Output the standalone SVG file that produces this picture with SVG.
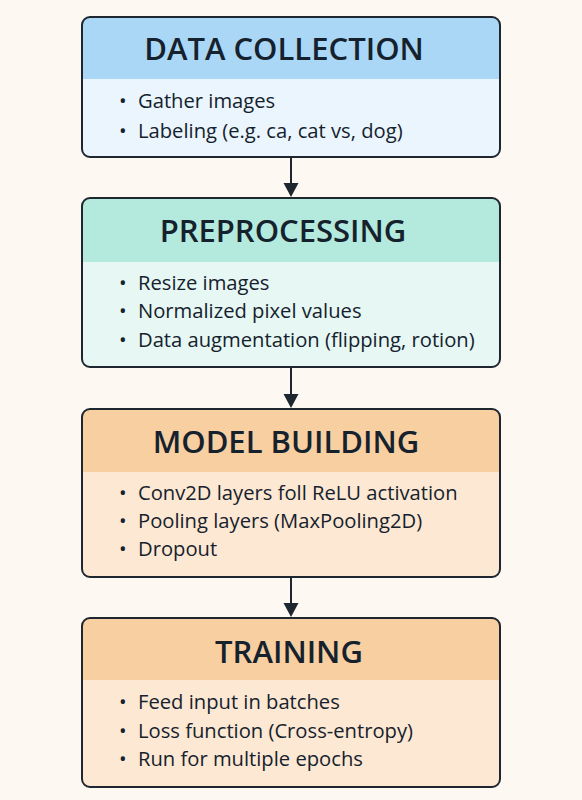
<svg xmlns="http://www.w3.org/2000/svg" width="582" height="800" viewBox="0 0 582 800">
<style>
.box{stroke:#1e2730;stroke-width:2;}
.title{font-family:"Open Sans","Liberation Sans",sans-serif;font-weight:600;font-size:31px;fill:#15222d;text-anchor:middle;}
.item{font-family:"Open Sans","Liberation Sans",sans-serif;font-size:20.2px;fill:#15222d;}
.conn{stroke:#1e2730;stroke-width:2;fill:none;}
.head{fill:#1e2730;}
</style>
<defs>
<clipPath id="c1"><rect x="82" y="17" width="418" height="140" rx="8"/></clipPath>
<clipPath id="c2"><rect x="82" y="198" width="418" height="169" rx="8"/></clipPath>
<clipPath id="c3"><rect x="82" y="409" width="418" height="168" rx="8"/></clipPath>
<clipPath id="c4"><rect x="82" y="618" width="418" height="169" rx="8"/></clipPath>
</defs>
<rect width="582" height="800" fill="#fdf8f2"/>
<g id="connectors">
<line class="conn" x1="291" y1="157" x2="291" y2="185"/>
<polygon class="head" points="283.5,183 298.5,183 291,197"/>
<line class="conn" x1="291" y1="367" x2="291" y2="396"/>
<polygon class="head" points="283.5,394 298.5,394 291,408"/>
<line class="conn" x1="291" y1="577" x2="291" y2="605"/>
<polygon class="head" points="283.5,603 298.5,603 291,617"/>
</g>
<g id="data-collection">
<g clip-path="url(#c1)">
<rect x="82" y="17" width="418" height="140" fill="#eaf5fd"/>
<rect x="82" y="17" width="418" height="62" fill="#abd7f7"/>
</g>
<rect class="box" x="82" y="17" width="418" height="140" rx="8" fill="none"/>
<text class="title" x="284" y="60">DATA COLLECTION</text>
<text class="item" x="119" y="108">•</text><text class="item" x="138" y="108">Gather images</text>
<text class="item" x="119" y="138">•</text><text class="item" x="138" y="138">Labeling (e.g. ca, cat vs, dog)</text>
</g>
<g id="preprocessing">
<g clip-path="url(#c2)">
<rect x="82" y="198" width="418" height="169" fill="#e6f7f4"/>
<rect x="82" y="198" width="418" height="64" fill="#b4e9dd"/>
</g>
<rect class="box" x="82" y="198" width="418" height="169" rx="8" fill="none"/>
<text class="title" x="283" y="242">PREPROCESSING</text>
<text class="item" x="119" y="290">•</text><text class="item" x="138" y="290">Resize images</text>
<text class="item" x="119" y="318">•</text><text class="item" x="138" y="318">Normalized pixel values</text>
<text class="item" x="119" y="347">•</text><text class="item" x="138" y="347">Data augmentation (flipping, rotion)</text>
</g>
<g id="model-building">
<g clip-path="url(#c3)">
<rect x="82" y="409" width="418" height="168" fill="#fde8d3"/>
<rect x="82" y="409" width="418" height="63" fill="#f8cfa1"/>
</g>
<rect class="box" x="82" y="409" width="418" height="168" rx="8" fill="none"/>
<text class="title" x="286" y="453">MODEL BUILDING</text>
<text class="item" x="119" y="500">•</text><text class="item" x="138" y="500">Conv2D layers foll ReLU activation</text>
<text class="item" x="119" y="528">•</text><text class="item" x="138" y="528">Pooling layers (MaxPooling2D)</text>
<text class="item" x="119" y="556">•</text><text class="item" x="138" y="556">Dropout</text>
</g>
<g id="training">
<g clip-path="url(#c4)">
<rect x="82" y="618" width="418" height="169" fill="#fde8d3"/>
<rect x="82" y="618" width="418" height="62" fill="#f8cfa1"/>
</g>
<rect class="box" x="82" y="618" width="418" height="169" rx="8" fill="none"/>
<text class="title" x="289" y="663">TRAINING</text>
<text class="item" x="119" y="709">•</text><text class="item" x="138" y="709">Feed input in batches</text>
<text class="item" x="119" y="738">•</text><text class="item" x="138" y="738">Loss function (Cross-entropy)</text>
<text class="item" x="119" y="766">•</text><text class="item" x="138" y="766">Run for multiple epochs</text>
</g>
</svg>
